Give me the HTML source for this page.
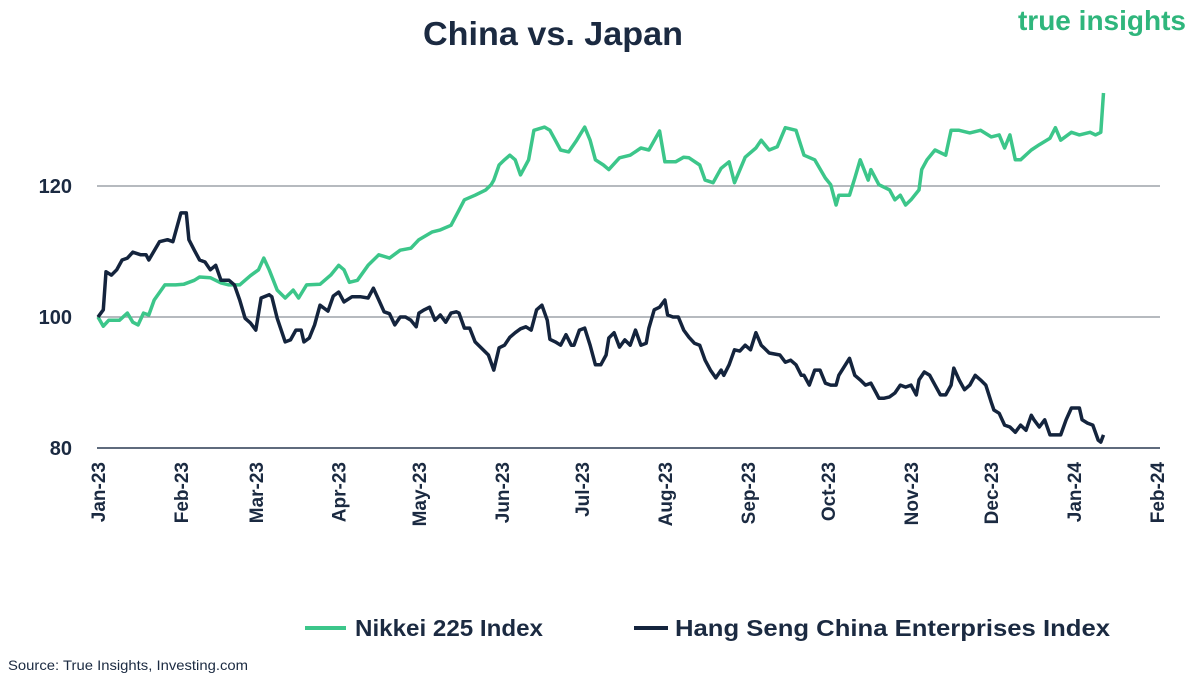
<!DOCTYPE html>
<html><head><meta charset="utf-8"><style>
body{margin:0;background:#fff;font-family:"Liberation Sans",sans-serif;}
svg text{font-family:"Liberation Sans",sans-serif;}
</style></head><body>
<svg width="1200" height="685" xmlns="http://www.w3.org/2000/svg" id="chart">
<text x="423" y="45" font-size="33" font-weight="bold" fill="#1b2a41" textLength="260" lengthAdjust="spacingAndGlyphs">China vs. Japan</text>
<text x="1186" y="30" text-anchor="end" font-size="28" font-weight="bold" fill="#2fb67c">true insights</text>
<g id="grid"></g><g id="series"></g><g id="xlabels"></g>
<g>
<line x1="305" y1="628" x2="346" y2="628" stroke="#3cc68a" stroke-width="4"/>
<text x="355" y="636" font-size="23" font-weight="bold" fill="#1b2a41" textLength="188" lengthAdjust="spacingAndGlyphs">Nikkei 225 Index</text>
<line x1="634" y1="628" x2="668" y2="628" stroke="#14243d" stroke-width="4"/>
<text x="675" y="636" font-size="23" font-weight="bold" fill="#1b2a41" textLength="435" lengthAdjust="spacingAndGlyphs">Hang Seng China Enterprises Index</text>
</g>
<text x="8" y="670" font-size="14" fill="#1b2a41" textLength="240" lengthAdjust="spacingAndGlyphs">Source: True Insights, Investing.com</text>
</svg>
<script>
const yTicks=[80,100,120];
const months=["Jan-23","Feb-23","Mar-23","Apr-23","May-23","Jun-23","Jul-23","Aug-23","Sep-23","Oct-23","Nov-23","Dec-23","Jan-24","Feb-24"];
const monthDays=[0,31,59,90,120,151,181,212,243,273,304,334,365,396];
const nkDays=[0,2,4,8,11,13,15,17,19,21,25,29,32,36,38,42,46,49,53,57,60,62,64,67,70,73,75,78,83,87,90,92,94,97,101,105,109,113,117,120,125,128,132,135,137,141,145,147,148,150,152,154,156,158,161,163,167,169,171,173,176,179,182,184,186,189,191,195,199,203,206,210,212,216,219,221,225,227,230,233,236,238,242,246,248,251,254,257,261,264,268,272,274,276,277,281,283,285,288,289,292,296,298,300,302,304,307,308,310,313,317,319,322,326,330,334,337,339,341,343,345,349,352,356,358,360,364,367,371,373,375,376];
const nkVals=[100,98.6,99.5,99.5,100.6,99.2,98.8,100.6,100.3,102.6,104.9,104.9,105.0,105.6,106.1,106.0,105.2,104.9,104.9,106.3,107.2,109.0,107.2,104.1,102.9,104.1,102.9,104.9,105.0,106.4,107.9,107.2,105.3,105.6,107.9,109.5,109.0,110.2,110.5,111.8,113.0,113.3,114.0,116.3,117.9,118.6,119.4,120.2,120.9,123.2,124.0,124.7,124.0,121.7,124.0,128.5,129.0,128.5,127.0,125.5,125.2,127.0,129.0,127.0,124.0,123.2,122.5,124.3,124.7,125.8,125.5,128.4,123.7,123.7,124.4,124.3,123.2,120.9,120.5,122.7,123.7,120.5,124.4,125.8,127.0,125.5,126.0,128.9,128.5,124.7,124.0,121.2,120.2,117.1,118.6,118.6,121.2,124.0,120.9,122.5,120.2,119.4,117.9,118.6,117.1,117.9,119.4,122.5,124.0,125.5,124.7,128.5,128.5,128.1,128.5,127.5,127.8,125.8,127.8,124.0,124.0,125.5,126.3,127.3,128.9,127.0,128.2,127.8,128.2,127.8,128.2,134.2];
const hsDays=[0,2,3,5,7,9,11,13,16,18,19,23,26,28,31,33,34,36,38,40,42,44,46,49,51,53,55,57,59,61,64,65,67,70,72,74,76,77,79,81,83,86,88,90,92,95,98,101,103,105,107,109,111,113,115,117,119,120,122,124,126,128,130,132,134,135,137,139,141,144,146,148,150,152,154,156,158,160,162,164,166,168,169,171,173,175,177,178,180,182,184,186,188,190,191,193,195,197,199,201,203,205,206,208,210,212,213,215,217,219,221,223,225,227,229,231,233,234,236,238,240,242,244,246,248,249,251,255,257,259,261,263,264,266,268,270,272,274,276,277,281,283,285,287,289,291,292,294,296,298,300,302,304,306,307,309,311,313,315,317,319,320,322,324,326,328,330,332,334,335,337,339,341,343,345,347,349,350,352,354,356,360,362,364,367,368,370,372,374,375,376];
const hsVals=[100,101.1,106.9,106.4,107.2,108.7,109.0,109.9,109.5,109.5,108.7,111.5,111.8,111.5,115.9,115.9,111.8,110.2,108.7,108.4,107.2,107.9,105.6,105.6,104.9,102.6,99.8,99.1,98.0,102.9,103.4,103.1,99.8,96.2,96.5,98.0,98.0,96.2,96.8,98.8,101.8,100.9,103.2,103.8,102.3,103.1,103.1,102.9,104.4,102.6,100.8,100.5,98.8,100,100,99.5,98.5,100.6,101.1,101.5,99.5,100.3,99.2,100.6,100.8,100.6,98.3,98.3,96.2,95.0,94.2,91.9,95.3,95.7,96.9,97.6,98.2,98.5,98.0,101.1,101.8,99.5,96.6,96.2,95.7,97.3,95.7,95.7,98.0,98.3,95.7,92.7,92.7,94.2,96.8,97.6,95.4,96.5,95.7,98.0,95.7,96.0,98.3,101.1,101.5,102.6,100.3,100,100,98.0,96.9,96.0,95.7,93.4,91.9,90.7,91.9,91.1,92.7,95.0,94.8,95.7,95.0,97.6,95.7,95.3,94.5,94.2,93.1,93.4,92.7,91.1,91.1,89.6,91.9,91.9,89.9,89.6,89.6,91.1,93.7,91.1,90.4,89.6,89.9,88.4,87.6,87.6,87.8,88.4,89.6,89.3,89.6,88.1,90.4,91.6,91.1,89.6,88.1,88.1,89.6,92.2,90.4,88.9,89.6,91.1,90.4,89.6,87.0,85.8,85.3,83.5,83.2,82.4,83.5,82.7,85.0,84.3,83.2,84.3,82.0,82.0,84.3,86.1,86.1,84.3,83.8,83.5,81.2,80.9,82.0];
const NS="http://www.w3.org/2000/svg";
function xS(d){return 98+d*(1157-98)/396;}
function yS(v){return 317-(v-100)*(131/20);}
const grid=document.getElementById('grid');
yTicks.forEach(t=>{
 const l=document.createElementNS(NS,'line');
 l.setAttribute('x1',97);l.setAttribute('x2',1160);l.setAttribute('y1',yS(t));l.setAttribute('y2',yS(t));
 l.setAttribute('stroke',t===80?'#2a3a52':'#8a9099');l.setAttribute('stroke-width',t===80?1.6:1.2);
 
 
 grid.appendChild(l);
 const tx=document.createElementNS(NS,'text');
 tx.setAttribute('x',72);tx.setAttribute('y',yS(t)+7);tx.setAttribute('text-anchor','end');
 tx.setAttribute('font-size','20');tx.setAttribute('font-weight','bold');tx.setAttribute('fill','#1b2a41');
 tx.textContent=t;
 
 
 grid.appendChild(tx);
});
const xl=document.getElementById('xlabels');
months.forEach((m,i)=>{
 const x=xS(monthDays[i]);
 const tx=document.createElementNS(NS,'text');
 tx.setAttribute('transform','translate('+(x+7)+',462) rotate(-90)');
 tx.setAttribute('text-anchor','end');tx.setAttribute('font-size','19');tx.setAttribute('font-weight','bold');tx.setAttribute('fill','#1b2a41');
 tx.textContent=m;
 
 
 xl.appendChild(tx);
});
const sg=document.getElementById('series');
function line(days,vals,color,name){
 const p=document.createElementNS(NS,'polyline');
 p.setAttribute('points',days.map((d,i)=>xS(d).toFixed(1)+','+yS(vals[i]).toFixed(1)).join(' '));
 p.setAttribute('fill','none');p.setAttribute('stroke',color);p.setAttribute('stroke-width','3.5');p.setAttribute('stroke-linejoin','round');
 
 
 sg.appendChild(p);
}
line(nkDays,nkVals,'#3cc68a','nikkei-line');
line(hsDays,hsVals,'#14243d','hangseng-line');
</script>
</body></html>
